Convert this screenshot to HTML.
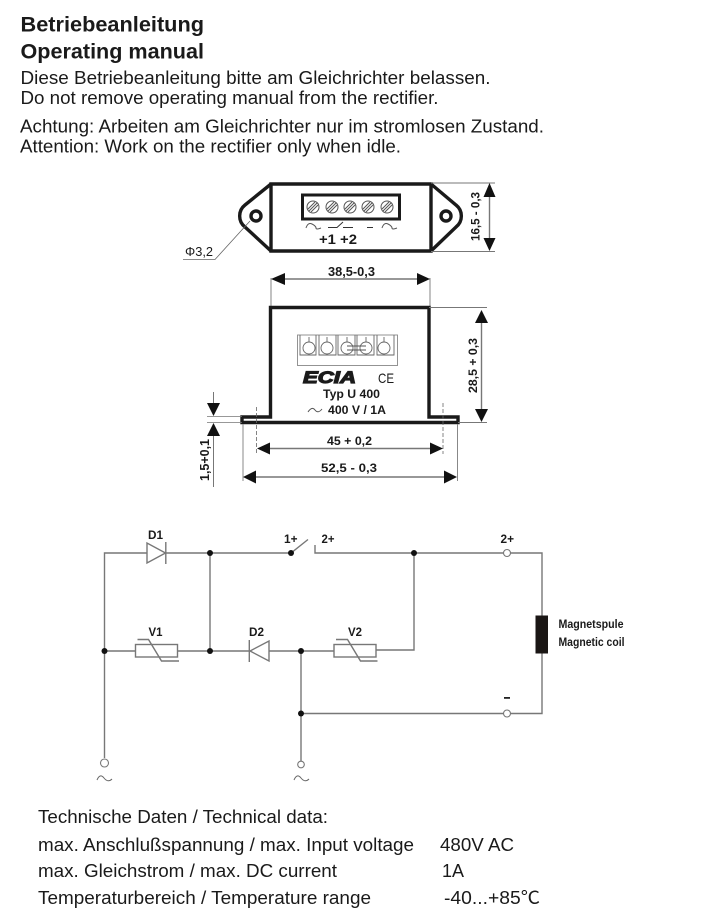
<!DOCTYPE html>
<html><head><meta charset="utf-8"><style>
html,body{margin:0;padding:0;background:#fff}
svg{display:block}
text{font-family:"Liberation Sans","DejaVu Sans",sans-serif;fill:#1a1a1a}
.b{font-weight:bold}
.g{fill:none;stroke:#777;stroke-width:1.4}
.k{fill:none;stroke:#1a1a1a;stroke-width:3.4}
.d{fill:#111}
.o{fill:#fff;stroke:#777;stroke-width:1.1}
</style></head><body>
<svg width="718" height="918" viewBox="0 0 718 918" xmlns="http://www.w3.org/2000/svg">
<rect width="718" height="918" fill="#fff"/>
<text class="b" x="20.5" y="31.5" font-size="21.7" textLength="183.5" lengthAdjust="spacingAndGlyphs">Betriebeanleitung</text>
<text class="b" x="20.5" y="58.5" font-size="21.7" textLength="183.5" lengthAdjust="spacingAndGlyphs">Operating manual</text>
<text x="20.5" y="84" font-size="18.9" textLength="470" lengthAdjust="spacingAndGlyphs">Diese Betriebeanleitung bitte am Gleichrichter belassen.</text>
<text x="20.5" y="104" font-size="18.9" textLength="418" lengthAdjust="spacingAndGlyphs">Do not remove operating manual from the rectifier.</text>
<text x="20" y="132.5" font-size="18.9" textLength="524" lengthAdjust="spacingAndGlyphs">Achtung: Arbeiten am Gleichrichter nur im stromlosen Zustand.</text>
<text x="20" y="152.5" font-size="18.9" textLength="381" lengthAdjust="spacingAndGlyphs">Attention: Work on the rectifier only when idle.</text>

<!-- top view -->
<path class="k" d="M271 184H431V251H271Z"/>
<path class="k" d="M271 184L245 205A14 14 0 0 0 245 227L271 251M431 184L456 205A14 14 0 0 1 456 227L431 251"/>
<circle cx="256" cy="216" r="5" fill="#fff" stroke="#1a1a1a" stroke-width="3.4"/>
<circle cx="446" cy="216" r="5" fill="#fff" stroke="#1a1a1a" stroke-width="3.4"/>
<rect x="302.5" y="195" width="97" height="24" fill="#fff" stroke="#1a1a1a" stroke-width="3"/>
<g fill="#fff" stroke="#555" stroke-width="1">
<circle cx="313" cy="207" r="6"/><circle cx="332" cy="207" r="6"/><circle cx="350" cy="207" r="6"/><circle cx="368" cy="207" r="6"/><circle cx="387" cy="207" r="6"/>
<path d="M309 211L317 203M311 212L318 205M308 209L315 202M328 211L336 203M330 212L337 205M327 209L334 202M346 211L354 203M348 212L355 205M345 209L352 202M364 211L372 203M366 212L373 205M363 209L370 202M383 211L391 203M385 212L392 205M382 209L389 202"/>
</g>
<path d="M306 228Q308 222 312 224T316 228T321 228M382 228Q384 222 388 224T392 228T397 228" fill="none" stroke="#555" stroke-width="1"/>
<path d="M328 227.5H337L343 222M343 227.5H353M367 227.5H373" fill="none" stroke="#333" stroke-width="1"/>
<text class="b" x="319" y="244" font-size="14" textLength="38" lengthAdjust="spacingAndGlyphs">+1 +2</text>
<text x="185" y="256" font-size="12.5" textLength="28" lengthAdjust="spacingAndGlyphs">Φ3,2</text>
<path d="M183 259.5H215L250 221" fill="none" stroke="#666" stroke-width="0.8"/>

<path d="M431 183H495M431 251.5H495" fill="none" stroke="#777" stroke-width="0.9"/>
<path d="M489.5 195V239" class="g"/>
<path class="d" d="M489.5 183L483.5 197H495.5ZM489.5 251L483.5 238H495.5Z"/>
<text class="b" transform="translate(479.5 241) rotate(-90)" font-size="12" textLength="49" lengthAdjust="spacingAndGlyphs">16,5 - 0,3</text>

<path d="M271 278V307M430 278V307" fill="none" stroke="#777" stroke-width="0.9"/>
<path d="M284 279H417" class="g"/>
<path class="d" d="M271 279L285 273V285ZM430 279L417 273V285Z"/>
<text class="b" x="328" y="276" font-size="12.8" textLength="47" lengthAdjust="spacingAndGlyphs">38,5-0,3</text>

<!-- front view -->
<path class="k" d="M242 422.5V417H270.5V307.5H429V417H458V422.5Z"/>
<rect x="297.5" y="335" width="100" height="30.5" fill="#fff" stroke="#888" stroke-width="0.9"/>
<g fill="none" stroke="#666" stroke-width="0.9">
<path d="M300 335V355H316V335M319 335V355H336V335M338 335V355H355V335M357 335V355H374V335M377 335V355H394V335"/>
<circle cx="309" cy="348" r="6"/><circle cx="327" cy="348" r="6"/><circle cx="347" cy="348" r="6"/><circle cx="366" cy="348" r="6"/><circle cx="384" cy="348" r="6"/>
<path d="M309 337V342M327 337V342M347 337V342M366 337V342M384 337V342"/>
</g>
<path d="M347 346H366M347 350H366" stroke="#555" stroke-width="1"/>
<text class="b" x="303" y="383" font-size="17" font-style="italic" textLength="53" lengthAdjust="spacingAndGlyphs" style="stroke:#1a1a1a;stroke-width:1.2">ECIA</text>
<text x="378" y="383" font-size="14" textLength="16" lengthAdjust="spacingAndGlyphs">CE</text>
<text class="b" x="323" y="398" font-size="12" textLength="57" lengthAdjust="spacingAndGlyphs">Typ U 400</text>
<path d="M308 412Q312 406 315 410T322 409" fill="none" stroke="#555" stroke-width="1"/>
<text class="b" x="328" y="414" font-size="12.3" textLength="58" lengthAdjust="spacingAndGlyphs">400 V / 1A</text>

<path d="M256.5 407V454M443 403V454" fill="none" stroke="#666" stroke-width="0.8" stroke-dasharray="4 2"/>
<path d="M268 448.5H432" class="g"/>
<path class="d" d="M257 448.5L270 442.5V454.5ZM443 448.5L430 442.5V454.5Z"/>
<text class="b" x="327" y="445" font-size="12.4" textLength="45" lengthAdjust="spacingAndGlyphs">45 + 0,2</text>
<path d="M243 424V481M457.5 424V481" fill="none" stroke="#888" stroke-width="1"/>
<path d="M254 477H446" class="g"/>
<path class="d" d="M243 477L256 470.5V483.5ZM457 477L444 470.5V483.5Z"/>
<text class="b" x="321" y="472" font-size="12.4" textLength="56" lengthAdjust="spacingAndGlyphs">52,5 - 0,3</text>

<path d="M429 307.5H487M458 422.5H487" fill="none" stroke="#777" stroke-width="0.9"/>
<path d="M481.5 320V410" class="g"/>
<path class="d" d="M481.5 310L475 323H488ZM481.5 422L475 409H488Z"/>
<text class="b" transform="translate(477 393) rotate(-90)" font-size="12.3" textLength="55" lengthAdjust="spacingAndGlyphs">28,5 + 0,3</text>

<path d="M207 416.5H242M207 422.5H242" fill="none" stroke="#777" stroke-width="0.8"/>
<path d="M213.5 392V405M213.5 434V487" fill="none" stroke="#777" stroke-width="1"/>
<path class="d" d="M213.5 416L207 403H220ZM213.5 423L207 436H220Z"/>
<text class="b" transform="translate(209 481) rotate(-90)" font-size="12.5" textLength="42" lengthAdjust="spacingAndGlyphs">1,5+0,1</text>

<!-- circuit -->
<path class="g" d="M104.5 758V553H147M166 553H291L308 539.5M315 545V553H542V616M542 653V713.5H511M503 713.5H301M301 651V761M104.5 651H135M177.5 651H250M269 651H334M376 650H414V553"/>
<path class="g" d="M210 553V651"/>
<path class="g" d="M147 543V563L165.5 553Z"/>
<path class="g" d="M165.8 542V564"/>
<path class="g" d="M269 641V661L250 651Z"/>
<path class="g" d="M249.3 640V662"/>
<rect class="g" x="135.5" y="644.5" width="42" height="12.5"/>
<rect class="g" x="334" y="644.5" width="42" height="12.5"/>
<path class="g" d="M137.5 639.5H148.5L161.5 661H179"/>
<path class="g" d="M336 639.5H347.5L360.5 661H377.5"/>
<g class="d"><circle cx="104.5" cy="651" r="3"/><circle cx="210" cy="553" r="3"/><circle cx="210" cy="651" r="3"/><circle cx="291" cy="553" r="3"/><circle cx="301" cy="651" r="3"/><circle cx="301" cy="713.5" r="3"/><circle cx="414" cy="553" r="3"/></g>
<circle class="o" cx="507" cy="553" r="3.5"/><circle class="o" cx="507" cy="713.5" r="3.5"/>
<circle class="o" cx="104.5" cy="763" r="4"/><circle class="o" cx="301" cy="764.5" r="3.3"/>
<path d="M97 780Q100 773 104 778T112 779M294 780Q297 773 301 778T309 779" fill="none" stroke="#666" stroke-width="1"/>
<rect x="535.5" y="615.5" width="12.5" height="38" fill="#1a1614"/>
<text class="b" x="148" y="539" font-size="12" textLength="15" lengthAdjust="spacingAndGlyphs">D1</text>
<text class="b" x="284" y="543" font-size="11.5" textLength="13.5" lengthAdjust="spacingAndGlyphs">1+</text>
<text class="b" x="321.5" y="543" font-size="11.5" textLength="13" lengthAdjust="spacingAndGlyphs">2+</text>
<text class="b" x="148.5" y="636" font-size="12" textLength="14" lengthAdjust="spacingAndGlyphs">V1</text>
<text class="b" x="249" y="636" font-size="12" textLength="15" lengthAdjust="spacingAndGlyphs">D2</text>
<text class="b" x="348" y="636" font-size="12" textLength="14" lengthAdjust="spacingAndGlyphs">V2</text>
<text class="b" x="500.5" y="543" font-size="11.5" textLength="13.5" lengthAdjust="spacingAndGlyphs">2+</text>
<rect x="504" y="697" width="6" height="1.8" fill="#222"/>
<text class="b" x="558.5" y="628" font-size="11.5" textLength="65" lengthAdjust="spacingAndGlyphs">Magnetspule</text>
<text class="b" x="558.5" y="646" font-size="11.5" textLength="66" lengthAdjust="spacingAndGlyphs">Magnetic coil</text>

<!-- data -->
<text x="38" y="823" font-size="18.2" textLength="290" lengthAdjust="spacingAndGlyphs">Technische Daten / Technical data:</text>
<text x="38" y="851" font-size="18.2" textLength="376" lengthAdjust="spacingAndGlyphs">max. Anschlußspannung / max. Input voltage</text>
<text x="440" y="851" font-size="18.2" textLength="74" lengthAdjust="spacingAndGlyphs">480V AC</text>
<text x="38" y="877" font-size="18.2" textLength="299" lengthAdjust="spacingAndGlyphs">max. Gleichstrom / max. DC current</text>
<text x="442" y="877" font-size="18.2" textLength="22" lengthAdjust="spacingAndGlyphs">1A</text>
<text x="38" y="904" font-size="18.2" textLength="333" lengthAdjust="spacingAndGlyphs">Temperaturbereich / Temperature range</text>
<text x="444" y="904" font-size="18.2" textLength="96" lengthAdjust="spacingAndGlyphs" style='font-family:"Liberation Sans","Noto Sans CJK SC",sans-serif'>-40...+85℃</text>
</svg>
</body></html>
